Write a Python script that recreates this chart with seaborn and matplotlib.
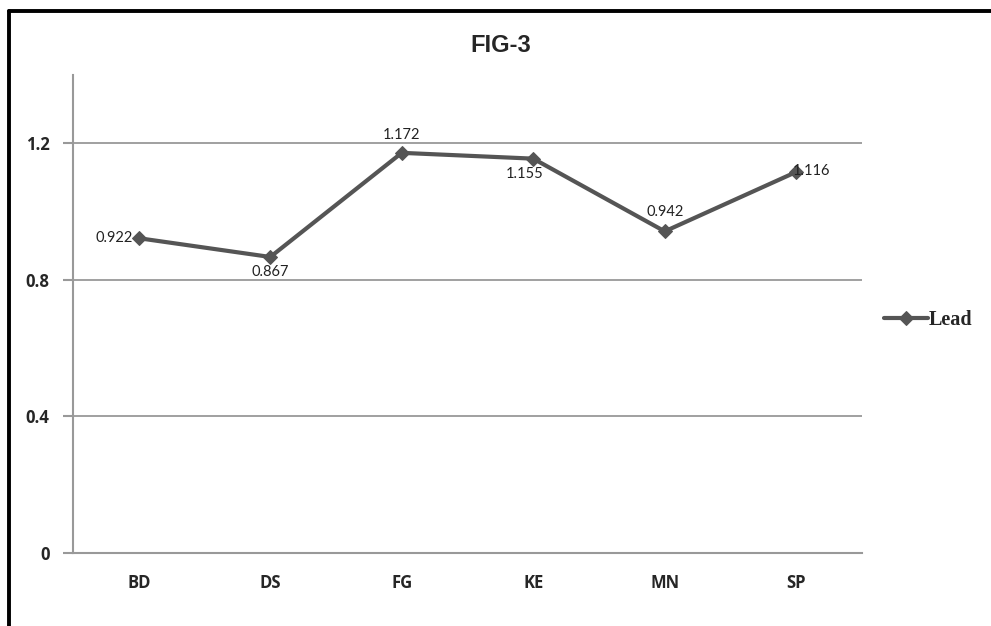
import matplotlib
matplotlib.use("Agg")
import matplotlib.pyplot as plt
from matplotlib.lines import Line2D
import seaborn as sns
import pandas as pd

# Lead concentration by site
sites = ["BD", "DS", "FG", "KE", "MN", "SP"]
lead = [0.922, 0.867, 1.172, 1.155, 0.942, 1.116]
y_ticks = [0, 0.4, 0.8, 1.2]
# label offsets (points) for each value label
label_offsets = [(-4, 0), (0, -11), (0, 13), (-6, -11), (0, 14), (11, 1)]
label_ha = ["right", "center", "center", "center", "center", "center"]

df = pd.DataFrame({"Site": sites, "Lead": lead})

sns.set_theme(style="white")
plt.rcParams["font.family"] = ["Lato", "DejaVu Sans"]

fig = plt.figure(figsize=(9.91, 6.26), dpi=100)
ax = fig.add_axes([0.0737, 0.1166, 0.7961, 0.7636])

line_color = "#555555"
sns.lineplot(data=df, x="Site", y="Lead", ax=ax, color=line_color,
             linewidth=3, marker="D", markersize=7, markeredgecolor=line_color,
             sort=False, label="Lead")

for i, (v, off, ha) in enumerate(zip(lead, label_offsets, label_ha)):
    ax.annotate(f"{v:.3f}", (i, v), xytext=off, textcoords="offset points",
                ha=ha, va="center", fontsize=10.5, color="#222222")

tick_font = {"family": ["Open Sans", "DejaVu Sans"], "weight": "bold", "size": 12}
ax.set_xlim(-0.5, len(sites) - 0.5)
ax.set_ylim(0, 1.4)
ax.set_yticks(y_ticks)
ax.set_yticklabels(["0", "0.4", "0.8", "1.2"], fontdict=tick_font)
ax.set_xticks(range(len(sites)))
ax.set_xticklabels(sites, fontdict=tick_font)
ax.set_xticks([i - 0.5 for i in range(len(sites) + 1)], minor=True)
ax.tick_params(axis="x", which="major", length=0, pad=15)
ax.tick_params(axis="x", which="minor", length=8, width=1.5, color="#999999", direction="out")
ax.tick_params(axis="y", which="major", length=7, width=1.5, color="#999999", direction="out", pad=10, left=True)
ax.set_xlabel("")
ax.set_ylabel("")

ax.yaxis.grid(True, color="#999999", linewidth=1.3)
ax.set_axisbelow(True)
for side in ["top", "right"]:
    ax.spines[side].set_visible(False)
for side in ["left", "bottom"]:
    ax.spines[side].set_color("#999999")
    ax.spines[side].set_linewidth(1.5)

fig.text(0.505, 0.928, "FIG-3", ha="center", va="center", fontsize=17,
         fontweight="bold", family=["Liberation Sans", "DejaVu Sans"])

leg = ax.legend(loc="center left", bbox_to_anchor=(1.005, 0.487), frameon=False,
                handlelength=2.2, handletextpad=0.0,
                prop={"family": ["Liberation Serif"], "weight": "bold", "size": 14.5})

# outer frame along the top and left edges
fig.add_artist(Line2D([0.009, 1.0], [0.982, 0.982], color="black", linewidth=2.8,
                      transform=fig.transFigure))
fig.add_artist(Line2D([0.009, 0.009], [0.0, 0.982], color="black", linewidth=2.8,
                      transform=fig.transFigure))

fig.savefig("out.png", dpi=100, facecolor="white")
